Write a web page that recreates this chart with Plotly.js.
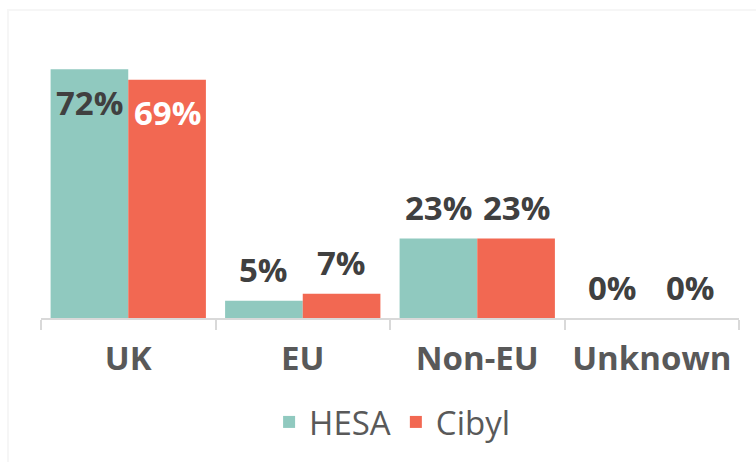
<!DOCTYPE html>
<html>
<head>
<meta charset="utf-8">
<script src="https://cdn.plot.ly/plotly-3.0.1.min.js"></script>
<style>html,body{margin:0;padding:0;background:#fff;}#chart{width:756px;height:462px;}</style>
</head>
<body>
<div id="chart"></div>
<script>
const categories = ["UK", "EU", "Non-EU", "Unknown"];
const hesaValues = [72, 5, 23, 0];
const cibylValues = [69, 7, 23, 0];
const seriesNames = ["HESA", "Cibyl"];

const FONT = "Open Sans, sans-serif";
const colors = ["#90c9bf", "#f26852"];
const insideColors = ["#404040", "#ffffff"];
const series = [hesaValues, cibylValues];

const traces = series.map((vals, i) => ({
  type: "bar",
  name: seriesNames[i],
  x: categories,
  y: vals,
  marker: {color: colors[i], line: {width: 0}},
  hoverinfo: "none"
}));

const annotations = [];
series.forEach((vals, i) => {
  vals.forEach((v, j) => {
    const inside = v > 50;
    annotations.push({
      x: categories[j], y: v, xref: "x", yref: "y",
      text: v + "%", showarrow: false,
      xshift: (i === 0 ? -1 : 1) * 38.8,
      yshift: inside ? -33 : 31,
      yanchor: "middle", xanchor: "center",
      font: {family: FONT, size: 33, color: inside ? insideColors[i] : "#404040", weight: 700}
    });
  });
});

const layout = {
  width: 756, height: 462,
  margin: {l: 41, r: 17, t: 40, b: 144},
  paper_bgcolor: "#ffffff", plot_bgcolor: "#ffffff",
  barmode: "group", bargap: 0.11, bargroupgap: 0,
  showlegend: true,
  legend: {orientation: "h", x: 0.503, xanchor: "center", y: -0.374, yanchor: "middle",
    font: {family: FONT, size: 33, color: "#595959"}, itemclick: false},
  xaxis: {
    type: "category", showgrid: false, zeroline: false,
    showline: true, linecolor: "#d9d9d9", linewidth: 2,
    ticks: "outside", tickson: "boundaries", ticklen: 10, tickcolor: "#d9d9d9", tickwidth: 2,
    tickfont: {family: FONT, size: 33, color: "#595959", weight: 700},
    ticklabelstandoff: 10
  },
  yaxis: {visible: false, range: [0, 80.5], showgrid: false, zeroline: false, fixedrange: true},
  annotations: annotations,
  shapes: [{type: "rect", xref: "paper", yref: "paper", x0: -0.0473, x1: 1.05, y0: -0.7, y1: 1.108,
    line: {color: "#f6f6f6", width: 2}, fillcolor: "rgba(0,0,0,0)", layer: "below"}]
};

Plotly.newPlot("chart", traces, layout, {displayModeBar: false, staticPlot: true});
</script>
</body>
</html>
